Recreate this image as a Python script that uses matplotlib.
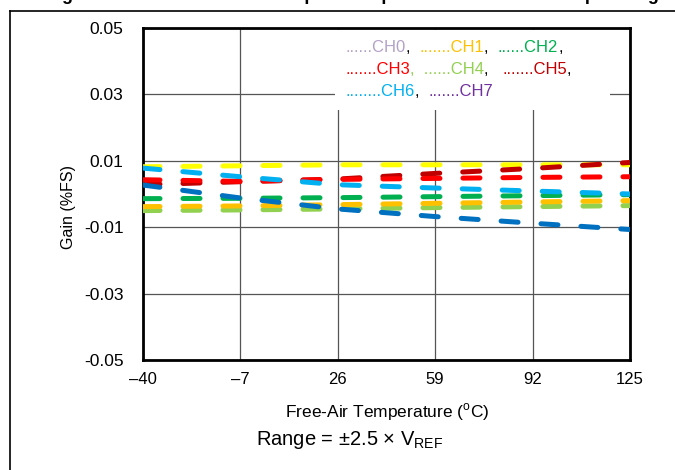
import matplotlib
matplotlib.use("Agg")
import matplotlib.pyplot as plt
from matplotlib.lines import Line2D
from matplotlib.offsetbox import TextArea, HPacker, VPacker, AnchoredOffsetbox

plt.rcParams["font.family"] = ["Liberation Sans", "DejaVu Sans"]

# temperature points (degC) and gain (%FS)
temps = [-40, -7, 26, 59, 92, 125]
yellow = [0.0082, 0.0085, 0.0088, 0.0088, 0.0088, 0.0088]
ch1 = [-0.0038, -0.0036, -0.0032, -0.0028, -0.0024, -0.0020]
ch4 = [-0.0050, -0.0048, -0.0045, -0.0041, -0.0038, -0.0035]
ch2 = [-0.0014, -0.0013, -0.0011, -0.0008, -0.0005, -0.0002]
ch3 = [0.0043, 0.0038, 0.0044, 0.0047, 0.0050, 0.0052]
ch5 = [0.0028, 0.0037, 0.0045, 0.0062, 0.0077, 0.0095]
ch6 = [0.0078, 0.0052, 0.0028, 0.0018, 0.0009, 0.0000]
ch7 = [0.0027, -0.0012, -0.0045, -0.0068, -0.0088, -0.0107]

yticks = [0.05, 0.03, 0.01, -0.01, -0.03, -0.05]
ytick_labels = ["0.05", "0.03", "0.01", "-0.01", "-0.03", "-0.05"]
xtick_labels = ["\u201340", "\u20137", "26", "59", "92", "125"]

series = [
    (yellow, "#FFFF00"),
    (ch4, "#92D050"),
    (ch1, "#FFC000"),
    (ch2, "#00B050"),
    (ch5, "#C00000"),
    (ch3, "#FF0000"),
    (ch6, "#00B0F0"),
    (ch7, "#0070C0"),
]

fig = plt.figure(figsize=(6.75, 4.7), dpi=100)
ax = fig.add_axes([143 / 675, 1 - 360 / 470, 487 / 675, 332 / 470])

for vals, col in series:
    ax.plot(temps, vals, color=col, lw=3.6, linestyle=(0, (3.4, 4.6)),
            dash_capstyle="round", solid_capstyle="round", zorder=3)

ax.set_xlim(-40, 125)
ax.set_ylim(-0.05, 0.05)
ax.set_xticks(temps)
ax.set_xticklabels(xtick_labels, fontsize=12)
ax.set_yticks(yticks)
ax.set_yticklabels(ytick_labels, fontsize=12.5)
ax.tick_params(axis="x", length=0, pad=9)
ax.tick_params(axis="y", length=0, pad=14)
ax.grid(True, color="#555555", lw=0.9)
ax.set_axisbelow(True)
for sp in ax.spines.values():
    sp.set_linewidth(2)
    sp.set_color("black")

fig.text(68 / 675, 1 - 207 / 470, "Gain (%FS)", rotation=90, fontsize=11.5,
         ha="center", va="center")
fig.text(387 / 675, 1 - 417 / 470, "Free-Air Temperature ($^{\\mathregular{o}}$C)",
         fontsize=12.5, ha="center", va="baseline")
fig.text(350 / 675, 1 - 445 / 470, "Range = \u00b12.5 \u00d7 V$_{\\mathregular{REF}}$",
         fontsize=14.5, ha="center", va="baseline")

# colored text legend
def row(pieces):
    return HPacker(children=[TextArea(t, textprops=dict(color=c, fontsize=12))
                             for t, c in pieces], align="baseline", pad=0, sep=0)

rows = [
    ["......CH0", ",  ", ".......CH1", ",  ", "......CH2", ","],
    [".......CH3", ",  ......CH4", ",   ", ".......CH5", ",      "],
    ["........CH6", ",  ", ".......CH7"],
]
row_colors = [
    ["#B3A2C7", "black", "#FFC000", "black", "#00B050", "black"],
    ["#FF0000", "#92D050", "black", "#C00000", "black"],
    ["#00B0F0", "black", "#7030A0"],
]
box = VPacker(children=[row(list(zip(r, c))) for r, c in zip(rows, row_colors)],
              align="left", pad=0, sep=5)
leg = AnchoredOffsetbox(loc="upper left", child=box, pad=0.75, borderpad=0, frameon=True,
                        bbox_to_anchor=(0.394, 1 - 2 / 332), bbox_transform=ax.transAxes)
leg.patch.set_facecolor("white")
leg.patch.set_edgecolor("none")
leg.set_zorder(2.2)
ax.add_artist(leg)

# figure frame lines and clipped title
fig.add_artist(Line2D([10 / 675, 1], [1 - 11 / 470, 1 - 11 / 470], color="black", lw=1.2))
fig.add_artist(Line2D([10 / 675, 10 / 675], [0, 1 - 11 / 470], color="black", lw=1.2))
fig.text(0.5, 1.0, "Change in Gain Error Across Temperature per Channel in Auto Sequencing",
         fontsize=13, fontweight="bold", ha="center", va="baseline")

fig.savefig("out.png", dpi=100)
